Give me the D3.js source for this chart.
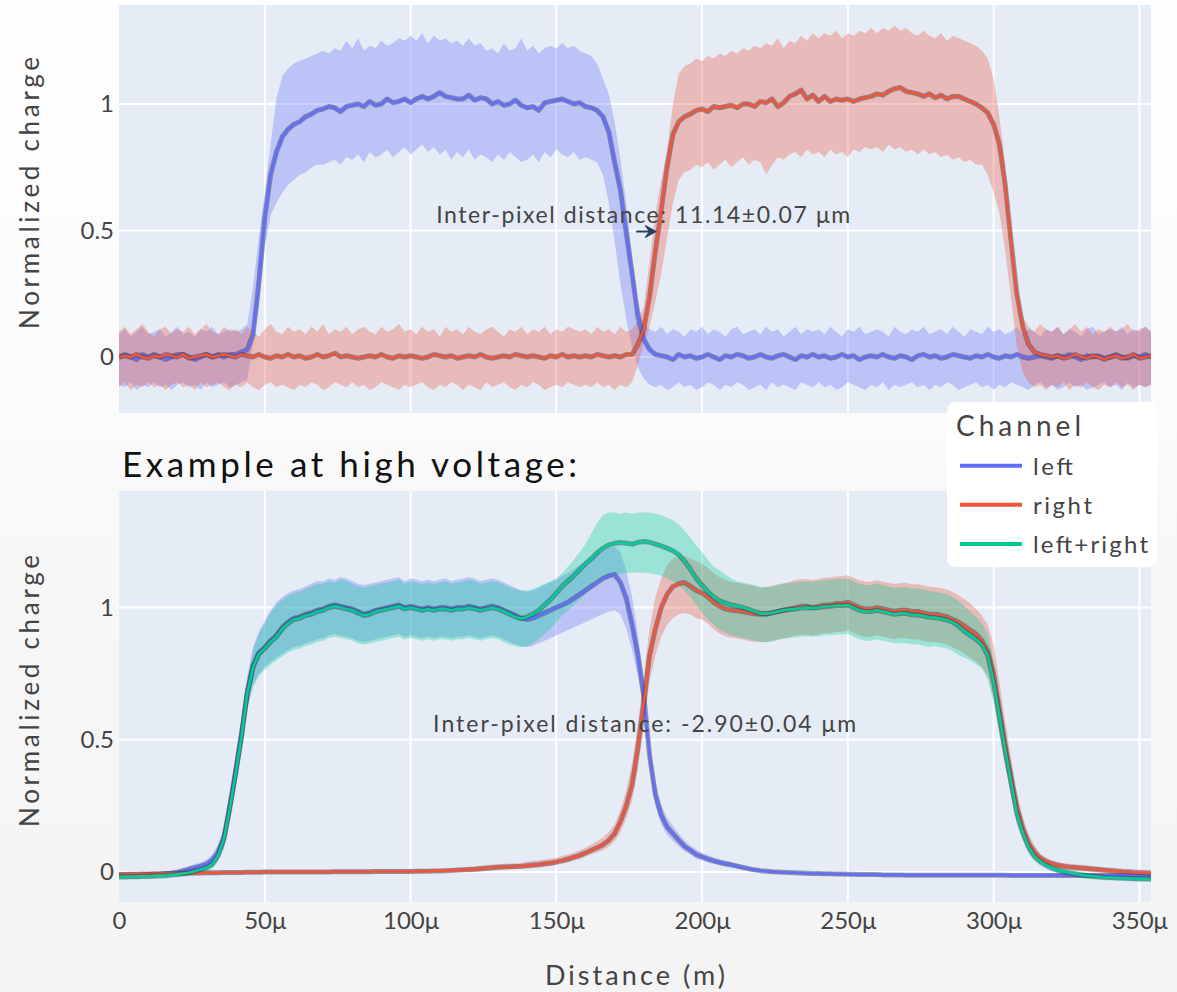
<!DOCTYPE html>
<html>
<head>
<meta charset="utf-8">
<script src="https://cdn.jsdelivr.net/npm/d3@7"></script>
<style>
  html, body { margin: 0; padding: 0; }
  body { width: 1177px; height: 992px; overflow: hidden; background: #f6f6f6; }
  svg text { font-family: Lato, "Noto Sans", "Open Sans", sans-serif; }
</style>
</head>
<body>
<svg id="chart" width="1177" height="992"></svg>
<script>
// ---- sampling grid (distance along the scan, in µm, 2 µm steps) ----
const distanceUm = d3.range(0, 355, 2);

// ---- axis ticks ----
const xTickValues = [0, 50, 100, 150, 200, 250, 300, 350];
const xTickLabels = ["0", "50μ", "100μ", "150μ", "200μ", "250μ", "300μ", "350μ"];
const yTickValues = [0, 0.5, 1];
const yTickLabels = ["0", "0.5", "1"];

// ---- legend ----
const channelNames = ["left", "right", "left+right"];
const channelColors = ["#636efa", "#ef553b", "#00cc96"];

// ---- annotations ----
const noteTexts = ["Inter-pixel distance: 11.14±0.07 μm", "Inter-pixel distance: -2.90±0.04 μm"];
const noteCenterUm = [179.8, 180.3];
const noteLevel = 0.5;
const arrowFromUm = 177.4;
const arrowToUm = 184.3;

// ---- upper panel: left channel ----
const topLeftMean = [
  0.00,0.01,0.00,-0.01,0.01,0.00,0.01,0.00,-0.01,0.00,
  0.01,0.01,0.00,-0.01,0.00,0.01,0.00,0.01,0.00,0.01,
  0.01,0.02,0.03,0.09,0.30,0.55,0.72,0.81,0.87,0.90,
  0.92,0.93,0.95,0.96,0.975,0.98,0.99,0.985,0.97,0.99,
  0.995,1.00,0.99,1.01,0.995,1.00,1.02,1.005,1.01,1.02,
  1.005,1.02,1.03,1.02,1.03,1.045,1.03,1.025,1.02,1.02,
  1.035,1.015,1.025,1.02,1.00,1.01,0.995,1.00,1.015,0.995,
  0.985,0.99,0.975,1.005,1.01,1.015,1.02,1.01,1.00,1.005,
  0.99,0.985,0.975,0.95,0.89,0.77,0.66,0.49,0.33,0.16,
  0.07,0.03,0.01,0.005,0.00,-0.01,0.01,0.00,0.005,-0.005,
  0.00,0.01,0.00,-0.01,0.005,0.00,0.01,0.005,-0.005,0.00,
  0.01,0.00,-0.005,0.005,0.01,0.00,-0.01,0.005,0.00,0.01,
  0.00,0.005,-0.005,0.00,0.01,0.00,0.005,-0.01,0.00,0.005,
  0.00,0.01,0.00,-0.005,0.005,0.00,-0.01,0.005,0.01,0.00,
  0.005,-0.005,0.00,0.01,0.005,0.00,-0.005,0.005,0.00,0.01,
  0.00,-0.005,0.005,0.00,0.01,0.00,-0.005,0.00,0.005,0.00,
  -0.005,0.005,0.00,0.01,0.00,-0.01,0.005,0.00,0.005,-0.005,
  0.00,0.01,0.00,-0.005,0.005,0.00,0.01,0.00
];
const topLeftHigh = [
  0.09,0.11,0.08,0.10,0.12,0.09,0.10,0.11,0.08,0.10,
  0.12,0.09,0.10,0.08,0.11,0.10,0.12,0.09,0.10,0.11,
  0.10,0.11,0.13,0.28,0.48,0.65,0.84,1.02,1.11,1.14,
  1.16,1.17,1.18,1.19,1.20,1.21,1.20,1.22,1.21,1.25,
  1.22,1.26,1.21,1.23,1.22,1.25,1.23,1.24,1.26,1.25,
  1.27,1.25,1.28,1.24,1.27,1.25,1.26,1.24,1.25,1.23,
  1.26,1.23,1.24,1.21,1.22,1.20,1.24,1.21,1.22,1.26,
  1.21,1.23,1.20,1.22,1.23,1.22,1.24,1.22,1.23,1.21,
  1.20,1.19,1.16,1.10,1.04,0.93,0.78,0.61,0.40,0.22,
  0.13,0.11,0.10,0.12,0.09,0.11,0.10,0.08,0.11,0.10,
  0.12,0.09,0.11,0.10,0.08,0.11,0.12,0.09,0.10,0.11,
  0.09,0.12,0.10,0.11,0.08,0.10,0.12,0.09,0.11,0.10,
  0.11,0.09,0.12,0.10,0.08,0.11,0.10,0.12,0.09,0.10,
  0.11,0.10,0.08,0.12,0.10,0.09,0.11,0.10,0.12,0.09,
  0.10,0.11,0.09,0.12,0.10,0.08,0.11,0.10,0.09,0.12,
  0.10,0.11,0.09,0.10,0.12,0.09,0.11,0.10,0.08,0.11,
  0.10,0.12,0.09,0.11,0.10,0.08,0.11,0.12,0.09,0.10,
  0.11,0.10,0.12,0.09,0.11,0.10,0.12,0.10
];
const topLeftLow = [
  -0.11,-0.12,-0.10,-0.13,-0.11,-0.12,-0.10,-0.12,-0.11,-0.13,
  -0.11,-0.10,-0.12,-0.11,-0.13,-0.10,-0.12,-0.11,-0.10,-0.12,
  -0.11,-0.10,-0.09,0.05,0.20,0.43,0.56,0.61,0.65,0.68,
  0.70,0.72,0.73,0.75,0.76,0.76,0.77,0.78,0.76,0.79,
  0.78,0.80,0.77,0.81,0.79,0.80,0.82,0.79,0.81,0.83,
  0.80,0.82,0.84,0.81,0.83,0.80,0.82,0.78,0.81,0.79,
  0.82,0.78,0.80,0.79,0.77,0.80,0.78,0.81,0.79,0.77,
  0.78,0.80,0.77,0.81,0.79,0.82,0.80,0.79,0.81,0.78,
  0.79,0.78,0.77,0.72,0.61,0.46,0.29,0.15,0.04,-0.04,
  -0.085,-0.11,-0.12,-0.11,-0.13,-0.12,-0.10,-0.12,-0.11,-0.13,
  -0.12,-0.10,-0.11,-0.13,-0.11,-0.12,-0.10,-0.11,-0.13,-0.12,
  -0.11,-0.13,-0.10,-0.12,-0.11,-0.12,-0.13,-0.10,-0.11,-0.12,
  -0.10,-0.12,-0.11,-0.13,-0.12,-0.10,-0.11,-0.12,-0.13,-0.11,
  -0.12,-0.10,-0.13,-0.11,-0.12,-0.11,-0.10,-0.12,-0.11,-0.13,
  -0.11,-0.12,-0.10,-0.11,-0.13,-0.12,-0.11,-0.10,-0.12,-0.11,
  -0.13,-0.11,-0.12,-0.10,-0.11,-0.12,-0.13,-0.11,-0.10,-0.12,
  -0.11,-0.13,-0.12,-0.10,-0.12,-0.11,-0.13,-0.12,-0.11,-0.10,
  -0.12,-0.11,-0.13,-0.10,-0.12,-0.11,-0.12,-0.11
];

// ---- upper panel: right channel ----
const topRightMean = [
  0.00,0.005,0.00,0.01,0.00,-0.005,0.005,0.00,0.01,0.005,
  0.00,0.01,-0.005,0.00,0.005,0.01,0.00,0.005,0.01,0.005,
  0.00,0.01,0.005,0.00,0.01,0.00,-0.005,0.005,0.00,0.01,
  0.00,0.005,-0.005,0.00,0.01,0.00,0.005,0.015,0.00,0.005,
  0.00,-0.005,0.00,0.005,0.00,0.01,0.00,-0.005,0.005,0.00,
  0.005,0.00,-0.005,0.00,0.01,0.005,0.00,0.005,-0.005,0.00,
  0.005,0.00,0.01,0.00,-0.005,0.00,0.005,0.00,0.01,0.005,
  0.00,0.005,0.00,-0.005,0.005,0.00,0.01,0.00,0.005,0.00,
  0.005,0.00,0.01,0.005,0.00,0.005,0.00,0.01,0.01,0.05,
  0.11,0.24,0.42,0.58,0.75,0.88,0.93,0.95,0.96,0.975,
  0.98,0.97,0.99,0.985,0.99,0.995,0.985,1.00,1.00,0.99,
  1.01,1.005,1.02,0.99,1.005,1.03,1.04,1.055,1.02,1.035,
  1.01,1.03,1.01,1.02,1.015,1.02,1.01,1.02,1.025,1.03,
  1.04,1.035,1.05,1.06,1.065,1.05,1.045,1.04,1.03,1.04,
  1.025,1.035,1.02,1.03,1.03,1.02,1.01,1.00,0.985,0.965,
  0.92,0.84,0.68,0.46,0.25,0.12,0.05,0.02,0.01,0.005,
  0.00,0.005,-0.005,0.00,0.01,0.00,-0.005,0.005,0.00,-0.01,
  0.00,0.005,-0.005,0.00,0.01,-0.005,0.00,0.005
];
const topRightHigh = [
  0.10,0.12,0.09,0.11,0.13,0.10,0.08,0.11,0.12,0.09,
  0.11,0.10,0.12,0.09,0.11,0.13,0.10,0.09,0.12,0.10,
  0.11,0.09,0.12,0.10,0.08,0.11,0.13,0.10,0.09,0.12,
  0.10,0.11,0.09,0.12,0.10,0.13,0.09,0.11,0.10,0.12,
  0.09,0.11,0.12,0.10,0.09,0.12,0.10,0.11,0.13,0.10,
  0.11,0.09,0.12,0.10,0.11,0.08,0.12,0.10,0.11,0.09,
  0.12,0.10,0.09,0.11,0.12,0.10,0.08,0.11,0.10,0.12,
  0.09,0.11,0.10,0.12,0.09,0.11,0.10,0.12,0.11,0.10,
  0.11,0.09,0.12,0.10,0.11,0.09,0.12,0.10,0.11,0.14,
  0.20,0.38,0.57,0.70,0.82,1.00,1.12,1.15,1.16,1.18,
  1.17,1.19,1.18,1.20,1.19,1.21,1.20,1.22,1.21,1.23,
  1.22,1.24,1.23,1.26,1.22,1.25,1.24,1.27,1.25,1.28,
  1.26,1.28,1.27,1.29,1.26,1.28,1.27,1.29,1.28,1.30,
  1.28,1.30,1.29,1.31,1.29,1.30,1.28,1.27,1.29,1.27,
  1.26,1.28,1.25,1.27,1.26,1.25,1.24,1.23,1.21,1.18,
  1.10,0.95,0.76,0.52,0.29,0.16,0.12,0.10,0.13,0.11,
  0.10,0.12,0.09,0.11,0.13,0.10,0.12,0.09,0.11,0.10,
  0.12,0.10,0.11,0.13,0.10,0.11,0.12,0.10
];
const topRightLow = [
  -0.12,-0.10,-0.13,-0.11,-0.12,-0.10,-0.12,-0.11,-0.13,-0.11,
  -0.10,-0.12,-0.11,-0.13,-0.10,-0.12,-0.11,-0.10,-0.12,-0.13,
  -0.11,-0.12,-0.10,-0.12,-0.13,-0.11,-0.10,-0.12,-0.11,-0.12,
  -0.13,-0.11,-0.12,-0.10,-0.11,-0.13,-0.12,-0.10,-0.11,-0.12,
  -0.10,-0.12,-0.11,-0.13,-0.12,-0.10,-0.11,-0.12,-0.13,-0.11,
  -0.12,-0.11,-0.10,-0.12,-0.13,-0.11,-0.12,-0.10,-0.11,-0.13,
  -0.11,-0.12,-0.13,-0.10,-0.12,-0.11,-0.10,-0.12,-0.13,-0.11,
  -0.12,-0.10,-0.11,-0.13,-0.12,-0.11,-0.12,-0.10,-0.11,-0.12,
  -0.11,-0.12,-0.10,-0.12,-0.11,-0.13,-0.11,-0.12,-0.10,-0.03,
  0.05,0.12,0.22,0.33,0.47,0.61,0.70,0.73,0.74,0.76,
  0.75,0.77,0.74,0.76,0.78,0.75,0.77,0.79,0.76,0.78,
  0.77,0.72,0.76,0.79,0.78,0.80,0.81,0.79,0.82,0.80,
  0.81,0.79,0.82,0.80,0.81,0.79,0.82,0.81,0.83,0.82,
  0.83,0.81,0.84,0.82,0.83,0.81,0.82,0.80,0.82,0.80,
  0.81,0.79,0.80,0.78,0.79,0.77,0.78,0.76,0.76,0.72,
  0.65,0.57,0.42,0.23,0.04,-0.06,-0.10,-0.12,-0.11,-0.13,
  -0.11,-0.12,-0.10,-0.13,-0.11,-0.12,-0.10,-0.12,-0.13,-0.11,
  -0.12,-0.10,-0.12,-0.11,-0.13,-0.11,-0.12,-0.11
];

// ---- lower panel (high voltage): left channel ----
const bottomLeftMean = [
  -0.012,-0.012,-0.011,-0.012,-0.011,-0.010,-0.010,-0.009,-0.007,-0.005,
  -0.002,0.004,0.010,0.016,0.022,0.030,0.045,0.075,0.13,0.25,
  0.38,0.52,0.68,0.78,0.83,0.85,0.875,0.895,0.925,0.945,
  0.96,0.965,0.975,0.98,0.99,0.995,1.005,1.01,1.005,1.0,
  0.995,0.985,0.975,0.98,0.99,0.995,1.0,1.005,1.01,1.0,
  1.005,1.0,0.995,1.0,0.995,1.0,1.0,0.995,1.0,1.0,
  1.005,1.0,0.995,1.0,1.005,1.0,0.99,0.98,0.97,0.96,
  0.955,0.96,0.97,0.98,0.99,1.0,1.01,1.02,1.035,1.05,
  1.065,1.08,1.095,1.11,1.12,1.125,1.095,1.035,0.935,0.82,
  0.67,0.44,0.29,0.215,0.17,0.145,0.12,0.097,0.082,0.066,
  0.057,0.049,0.042,0.036,0.031,0.027,0.022,0.017,0.012,0.008,
  0.005,0.003,0.001,0.0,-0.001,-0.002,-0.003,-0.004,-0.005,-0.006,
  -0.006,-0.007,-0.007,-0.008,-0.008,-0.009,-0.009,-0.010,-0.010,-0.010,
  -0.010,-0.011,-0.011,-0.011,-0.011,-0.012,-0.012,-0.012,-0.012,-0.012,
  -0.012,-0.012,-0.012,-0.012,-0.012,-0.012,-0.012,-0.012,-0.012,-0.012,
  -0.012,-0.012,-0.012,-0.013,-0.013,-0.013,-0.013,-0.013,-0.013,-0.013,
  -0.013,-0.013,-0.013,-0.013,-0.013,-0.013,-0.013,-0.013,-0.013,-0.013,
  -0.013,-0.013,-0.013,-0.013,-0.013,-0.013,-0.013,-0.013
];
const bottomLeftHigh = [
  -0.002,-0.002,-0.001,-0.002,-0.001,0.0,0.0,0.001,0.003,0.006,
  0.010,0.016,0.023,0.030,0.037,0.047,0.066,0.105,0.17,0.30,
  0.44,0.58,0.74,0.85,0.91,0.95,0.99,1.02,1.04,1.055,
  1.065,1.07,1.08,1.09,1.10,1.10,1.11,1.105,1.115,1.11,
  1.10,1.09,1.085,1.09,1.095,1.10,1.105,1.11,1.115,1.10,
  1.11,1.105,1.10,1.105,1.10,1.105,1.11,1.10,1.105,1.11,
  1.115,1.11,1.10,1.105,1.11,1.105,1.095,1.085,1.075,1.065,
  1.06,1.065,1.075,1.085,1.095,1.105,1.12,1.13,1.145,1.16,
  1.175,1.19,1.20,1.215,1.225,1.23,1.21,1.14,1.04,0.90,
  0.72,0.49,0.34,0.255,0.205,0.175,0.145,0.12,0.10,0.085,
  0.073,0.064,0.056,0.049,0.043,0.038,0.032,0.026,0.020,0.016,
  0.012,0.010,0.008,0.006,0.005,0.004,0.003,0.002,0.001,0.0,
  0.001,0.0,0.0,-0.001,-0.001,-0.002,-0.002,-0.003,-0.003,-0.003,
  -0.003,-0.004,-0.004,-0.004,-0.004,-0.005,-0.005,-0.005,-0.005,-0.005,
  -0.005,-0.005,-0.005,-0.005,-0.005,-0.005,-0.005,-0.005,-0.005,-0.005,
  -0.005,-0.005,-0.005,-0.006,-0.006,-0.006,-0.006,-0.006,-0.006,-0.006,
  -0.006,-0.006,-0.006,-0.006,-0.006,-0.006,-0.006,-0.006,-0.006,-0.006,
  -0.006,-0.006,-0.006,-0.006,-0.006,-0.006,-0.006,-0.006
];
const bottomLeftLow = [
  -0.022,-0.022,-0.021,-0.022,-0.021,-0.020,-0.020,-0.019,-0.017,-0.015,
  -0.012,-0.008,-0.003,0.002,0.007,0.013,0.024,0.045,0.09,0.20,
  0.32,0.46,0.62,0.71,0.75,0.775,0.795,0.81,0.825,0.84,
  0.85,0.855,0.865,0.87,0.88,0.885,0.895,0.90,0.895,0.89,
  0.885,0.875,0.87,0.875,0.88,0.885,0.89,0.895,0.90,0.89,
  0.895,0.89,0.885,0.89,0.885,0.89,0.89,0.885,0.89,0.89,
  0.895,0.89,0.885,0.89,0.895,0.89,0.88,0.87,0.86,0.855,
  0.85,0.855,0.865,0.875,0.885,0.895,0.905,0.915,0.925,0.935,
  0.945,0.955,0.965,0.975,0.985,0.99,0.975,0.92,0.84,0.74,
  0.61,0.39,0.25,0.18,0.14,0.118,0.097,0.078,0.065,0.05,
  0.043,0.036,0.030,0.025,0.021,0.017,0.013,0.009,0.005,0.001,
  -0.002,-0.004,-0.006,-0.007,-0.008,-0.009,-0.010,-0.011,-0.012,-0.013,
  -0.013,-0.014,-0.014,-0.015,-0.015,-0.016,-0.016,-0.017,-0.017,-0.017,
  -0.017,-0.018,-0.018,-0.018,-0.018,-0.019,-0.019,-0.019,-0.019,-0.019,
  -0.019,-0.019,-0.019,-0.019,-0.019,-0.019,-0.019,-0.019,-0.019,-0.019,
  -0.019,-0.019,-0.019,-0.020,-0.020,-0.020,-0.020,-0.020,-0.020,-0.020,
  -0.020,-0.020,-0.020,-0.020,-0.020,-0.020,-0.020,-0.020,-0.020,-0.020,
  -0.020,-0.020,-0.020,-0.020,-0.020,-0.020,-0.020,-0.020
];

// ---- lower panel: right channel ----
const bottomRightMean = [
  -0.010,-0.010,-0.009,-0.009,-0.008,-0.008,-0.007,-0.007,-0.006,-0.006,
  -0.005,-0.005,-0.004,-0.004,-0.004,-0.003,-0.003,-0.003,-0.002,-0.002,
  -0.002,-0.002,-0.001,-0.001,-0.001,0.0,0.0,0.0,0.0,0.0,
  0.0,0.0,0.0,0.0,0.0,0.0,0.0,0.001,0.001,0.001,
  0.001,0.001,0.001,0.001,0.002,0.002,0.002,0.002,0.002,0.002,
  0.002,0.003,0.003,0.003,0.004,0.004,0.005,0.006,0.007,0.008,
  0.009,0.010,0.012,0.014,0.016,0.018,0.019,0.020,0.021,0.022,
  0.024,0.026,0.028,0.031,0.034,0.038,0.043,0.049,0.056,0.063,
  0.072,0.082,0.092,0.103,0.12,0.145,0.19,0.25,0.33,0.47,
  0.64,0.82,0.92,1.0,1.05,1.08,1.09,1.095,1.08,1.065,
  1.055,1.04,1.02,1.005,0.995,0.99,0.988,0.985,0.98,0.977,
  0.975,0.975,0.98,0.985,0.99,0.995,1.0,1.005,1.005,1.0,
  1.005,1.01,1.01,1.015,1.015,1.02,1.01,1.0,0.995,0.995,
  1.0,0.995,0.99,0.985,0.99,0.99,0.985,0.985,0.98,0.975,
  0.975,0.97,0.965,0.955,0.945,0.93,0.915,0.90,0.875,0.835,
  0.75,0.615,0.48,0.36,0.245,0.165,0.11,0.075,0.053,0.04,
  0.032,0.026,0.022,0.019,0.017,0.015,0.013,0.011,0.009,0.007,
  0.005,0.003,0.001,0.0,-0.002,-0.003,-0.004,-0.005
];
const bottomRightHigh = [
  -0.002,-0.002,-0.001,-0.001,0.0,0.0,0.001,0.001,0.002,0.002,
  0.003,0.003,0.004,0.004,0.004,0.005,0.005,0.005,0.006,0.006,
  0.006,0.006,0.007,0.007,0.007,0.008,0.008,0.008,0.008,0.008,
  0.008,0.008,0.008,0.008,0.008,0.008,0.008,0.009,0.009,0.009,
  0.009,0.009,0.009,0.009,0.010,0.010,0.010,0.010,0.010,0.010,
  0.010,0.011,0.011,0.011,0.012,0.012,0.013,0.014,0.015,0.016,
  0.021,0.022,0.024,0.026,0.028,0.030,0.031,0.032,0.033,0.034,
  0.040,0.042,0.044,0.047,0.050,0.055,0.060,0.066,0.074,0.082,
  0.092,0.104,0.116,0.130,0.150,0.180,0.235,0.31,0.41,0.56,
  0.74,0.92,1.04,1.11,1.16,1.185,1.195,1.195,1.185,1.175,
  1.165,1.15,1.13,1.115,1.105,1.097,1.094,1.09,1.085,1.081,
  1.075,1.078,1.082,1.088,1.092,1.098,1.104,1.108,1.107,1.104,
  1.108,1.113,1.114,1.118,1.119,1.122,1.112,1.103,1.099,1.098,
  1.103,1.098,1.094,1.089,1.093,1.094,1.088,1.088,1.084,1.079,
  1.077,1.073,1.068,1.058,1.047,1.032,1.015,0.995,0.97,0.935,
  0.86,0.72,0.57,0.43,0.30,0.21,0.145,0.10,0.07,0.055,
  0.044,0.038,0.034,0.031,0.029,0.027,0.025,0.023,0.021,0.019,
  0.017,0.015,0.013,0.012,0.010,0.009,0.008,0.007
];
const bottomRightLow = [
  -0.018,-0.018,-0.017,-0.017,-0.016,-0.016,-0.015,-0.015,-0.014,-0.014,
  -0.013,-0.013,-0.012,-0.012,-0.012,-0.011,-0.011,-0.011,-0.010,-0.010,
  -0.010,-0.010,-0.009,-0.009,-0.009,-0.008,-0.008,-0.008,-0.008,-0.008,
  -0.008,-0.008,-0.008,-0.008,-0.008,-0.008,-0.008,-0.007,-0.007,-0.007,
  -0.007,-0.007,-0.007,-0.007,-0.006,-0.006,-0.006,-0.006,-0.006,-0.006,
  -0.006,-0.005,-0.005,-0.005,-0.004,-0.004,-0.003,-0.002,-0.001,0.0,
  -0.001,0.0,0.002,0.004,0.006,0.008,0.009,0.010,0.011,0.012,
  0.012,0.014,0.016,0.019,0.022,0.026,0.031,0.036,0.042,0.048,
  0.058,0.066,0.074,0.082,0.095,0.115,0.15,0.20,0.27,0.39,
  0.55,0.72,0.82,0.89,0.935,0.96,0.975,0.98,0.975,0.96,
  0.955,0.94,0.918,0.902,0.892,0.886,0.883,0.879,0.874,0.871,
  0.87,0.87,0.874,0.879,0.884,0.889,0.894,0.898,0.897,0.894,
  0.899,0.904,0.904,0.908,0.909,0.913,0.904,0.895,0.89,0.889,
  0.895,0.89,0.885,0.88,0.885,0.884,0.88,0.879,0.874,0.87,
  0.87,0.866,0.86,0.85,0.84,0.826,0.81,0.795,0.775,0.74,
  0.66,0.52,0.40,0.29,0.19,0.125,0.08,0.052,0.036,0.026,
  0.02,0.014,0.01,0.007,0.005,0.003,0.001,-0.001,-0.003,-0.005,
  -0.007,-0.009,-0.011,-0.012,-0.014,-0.015,-0.016,-0.017
];

// ---- lower panel: left+right ----
const bottomSumMean = [
  -0.018,-0.018,-0.017,-0.017,-0.016,-0.016,-0.015,-0.014,-0.013,-0.011,
  -0.009,-0.006,-0.002,0.003,0.009,0.016,0.030,0.063,0.125,0.24,
  0.37,0.51,0.675,0.775,0.825,0.845,0.87,0.89,0.92,0.94,
  0.955,0.96,0.97,0.975,0.985,0.99,1.0,1.005,1.0,0.995,
  0.99,0.98,0.97,0.975,0.985,0.99,0.995,1.0,1.005,0.995,
  1.0,0.995,0.99,0.995,0.99,0.995,0.995,0.99,0.995,0.995,
  1.0,0.995,0.99,0.995,1.0,0.995,0.985,0.975,0.965,0.958,
  0.965,0.975,0.99,1.01,1.03,1.055,1.08,1.10,1.12,1.143,
  1.165,1.185,1.207,1.225,1.237,1.243,1.246,1.243,1.24,1.247,
  1.25,1.247,1.24,1.233,1.225,1.215,1.20,1.175,1.145,1.11,
  1.085,1.06,1.04,1.025,1.018,1.01,1.005,1.0,0.993,0.985,
  0.978,0.977,0.98,0.985,0.99,0.993,0.995,0.998,1.0,0.998,
  1.0,1.004,1.005,1.008,1.008,1.01,1.0,0.99,0.985,0.985,
  0.99,0.985,0.98,0.975,0.978,0.978,0.973,0.972,0.968,0.963,
  0.962,0.958,0.953,0.945,0.93,0.91,0.895,0.88,0.86,0.82,
  0.72,0.59,0.46,0.34,0.22,0.15,0.095,0.06,0.04,0.026,
  0.015,0.007,0.001,-0.004,-0.008,-0.011,-0.014,-0.016,-0.018,-0.02,
  -0.021,-0.022,-0.023,-0.024,-0.025,-0.026,-0.026,-0.027
];
const bottomSumHigh = [
  -0.006,-0.006,-0.005,-0.005,-0.004,-0.004,-0.003,-0.002,-0.001,0.001,
  0.004,0.008,0.013,0.019,0.026,0.035,0.052,0.09,0.16,0.29,
  0.43,0.57,0.73,0.84,0.90,0.94,0.98,1.01,1.03,1.045,
  1.055,1.06,1.07,1.08,1.09,1.09,1.10,1.095,1.105,1.10,
  1.09,1.08,1.075,1.08,1.085,1.09,1.095,1.10,1.105,1.09,
  1.10,1.095,1.09,1.095,1.09,1.095,1.10,1.09,1.095,1.10,
  1.105,1.10,1.09,1.095,1.10,1.095,1.085,1.075,1.07,1.065,
  1.065,1.07,1.08,1.09,1.10,1.11,1.13,1.155,1.18,1.21,
  1.24,1.28,1.32,1.35,1.36,1.36,1.355,1.36,1.355,1.36,
  1.36,1.36,1.355,1.35,1.34,1.33,1.315,1.29,1.265,1.235,
  1.21,1.18,1.155,1.14,1.125,1.11,1.10,1.095,1.09,1.085,
  1.078,1.077,1.08,1.085,1.09,1.093,1.095,1.098,1.10,1.098,
  1.10,1.104,1.105,1.108,1.108,1.11,1.10,1.09,1.085,1.085,
  1.09,1.085,1.08,1.075,1.078,1.078,1.073,1.072,1.068,1.063,
  1.06,1.055,1.05,1.04,1.025,1.005,0.985,0.965,0.94,0.90,
  0.80,0.66,0.52,0.39,0.26,0.18,0.12,0.08,0.056,0.04,
  0.028,0.019,0.013,0.008,0.004,0.001,-0.002,-0.005,-0.007,-0.009,
  -0.010,-0.011,-0.012,-0.013,-0.014,-0.015,-0.015,-0.016
];
const bottomSumLow = [
  -0.030,-0.030,-0.029,-0.029,-0.028,-0.028,-0.027,-0.026,-0.025,-0.023,
  -0.021,-0.018,-0.015,-0.011,-0.006,0.0,0.012,0.04,0.095,0.20,
  0.32,0.46,0.62,0.70,0.74,0.765,0.785,0.80,0.815,0.83,
  0.84,0.845,0.855,0.86,0.87,0.875,0.885,0.89,0.885,0.88,
  0.875,0.865,0.86,0.865,0.87,0.875,0.88,0.885,0.89,0.88,
  0.885,0.88,0.875,0.88,0.875,0.88,0.88,0.875,0.88,0.88,
  0.885,0.88,0.875,0.88,0.885,0.88,0.87,0.86,0.855,0.85,
  0.855,0.865,0.88,0.90,0.92,0.945,0.97,0.99,1.01,1.03,
  1.05,1.07,1.09,1.105,1.115,1.122,1.127,1.13,1.132,1.133,
  1.132,1.13,1.126,1.12,1.11,1.10,1.085,1.065,1.04,1.01,
  0.98,0.955,0.935,0.915,0.905,0.895,0.89,0.885,0.88,0.875,
  0.87,0.868,0.872,0.877,0.882,0.885,0.887,0.89,0.892,0.89,
  0.892,0.895,0.896,0.898,0.898,0.90,0.89,0.88,0.875,0.875,
  0.88,0.875,0.87,0.865,0.866,0.866,0.861,0.86,0.856,0.851,
  0.855,0.85,0.845,0.835,0.82,0.81,0.80,0.785,0.77,0.73,
  0.64,0.52,0.40,0.29,0.18,0.12,0.07,0.04,0.024,0.012,
  0.002,-0.005,-0.011,-0.016,-0.02,-0.023,-0.026,-0.028,-0.03,-0.031,
  -0.032,-0.033,-0.034,-0.035,-0.036,-0.037,-0.037,-0.038
];

// ================= drawing =================
const W = 1177, H = 992;
const svg = d3.select("#chart");
const defs = svg.append("defs");

// soft page background
const bg = defs.append("linearGradient").attr("id", "pageBg")
  .attr("x1", 0).attr("y1", 0).attr("x2", 0).attr("y2", 1);
[[0, "#fefefe"], [0.42, "#fbfbfb"], [0.5, "#f8f8f8"], [1, "#f4f4f4"]]
  .forEach(([o, c]) => bg.append("stop").attr("offset", o).attr("stop-color", c));
svg.append("rect").attr("width", W).attr("height", H).attr("fill", "url(#pageBg)");

const plotLeft = 119, plotRight = 1151;
const x = d3.scaleLinear().domain([0, 354]).range([plotLeft, plotRight]);

const panels = [
  {
    top: 5, bottom: 413, yDomain: [-0.2213, 1.3913],
    series: [
      { ch: 0, mean: topLeftMean, lo: topLeftLow, hi: topLeftHigh },
      { ch: 1, mean: topRightMean, lo: topRightLow, hi: topRightHigh }
    ],
    titleY: 193, showX: false, arrow: true
  },
  {
    top: 491, bottom: 902, yDomain: [-0.1136, 1.441],
    series: [
      { ch: 0, mean: bottomLeftMean, lo: bottomLeftLow, hi: bottomLeftHigh },
      { ch: 1, mean: bottomRightMean, lo: bottomRightLow, hi: bottomRightHigh },
      { ch: 2, mean: bottomSumMean, lo: bottomSumLow, hi: bottomSumHigh }
    ],
    titleY: 691, showX: true, arrow: false
  }
];

panels.forEach((p, k) => {
  const y = d3.scaleLinear().domain(p.yDomain).range([p.bottom, p.top]);
  const g = svg.append("g");

  g.append("rect")
    .attr("x", plotLeft).attr("y", p.top)
    .attr("width", plotRight - plotLeft).attr("height", p.bottom - p.top)
    .attr("fill", "#e5ecf6");

  // grid
  g.selectAll(".vgrid").data(xTickValues.filter(v => v > 0)).join("line")
    .attr("x1", d => x(d)).attr("x2", d => x(d))
    .attr("y1", p.top).attr("y2", p.bottom)
    .attr("stroke", "#ffffff").attr("stroke-width", 2);
  g.selectAll(".hgrid").data(yTickValues).join("line")
    .attr("x1", plotLeft).attr("x2", plotRight)
    .attr("y1", d => y(d)).attr("y2", d => y(d))
    .attr("stroke", "#ffffff").attr("stroke-width", 2);

  defs.append("clipPath").attr("id", "clip" + k).append("rect")
    .attr("x", plotLeft).attr("y", p.top)
    .attr("width", plotRight - plotLeft).attr("height", p.bottom - p.top);
  const plot = g.append("g").attr("clip-path", `url(#clip${k})`);

  const rows = p.series.map(s => ({
    ch: s.ch,
    pts: distanceUm.map((d, i) => ({ d, m: s.mean[i], lo: s.lo[i], hi: s.hi[i] }))
      .filter(v => v.m !== undefined && v.lo !== undefined && v.hi !== undefined)
  }));

  const area = d3.area().x(v => x(v.d)).y0(v => y(v.lo)).y1(v => y(v.hi));
  const line = d3.line().x(v => x(v.d)).y(v => y(v.m));

  rows.forEach(r => {
    plot.append("path").datum(r.pts).attr("d", area)
      .attr("fill", channelColors[r.ch]).attr("fill-opacity", 0.32);
  });
  rows.forEach(r => {
    plot.append("path").datum(r.pts).attr("d", line)
      .attr("fill", "none").attr("stroke", "#34344c").attr("stroke-opacity", 0.45)
      .attr("stroke-width", 5).attr("stroke-linejoin", "round");
    plot.append("path").datum(r.pts).attr("d", line)
      .attr("fill", "none").attr("stroke", channelColors[r.ch])
      .attr("stroke-width", 2.6).attr("stroke-linejoin", "round");
  });

  // y axis
  const yAxis = d3.axisLeft(y).tickValues(yTickValues)
    .tickFormat((d, i) => yTickLabels[i]).tickSize(0).tickPadding(5);
  const ya = g.append("g").attr("transform", `translate(${plotLeft},0)`).call(yAxis);
  ya.select(".domain").remove();
  ya.selectAll("text").attr("font-size", 24).attr("fill", "#444")
    .style("font-family", "Lato, 'Noto Sans', sans-serif");

  g.append("text")
    .attr("transform", `translate(39,${p.titleY}) rotate(-90)`)
    .attr("text-anchor", "middle").attr("font-size", 26).attr("fill", "#444")
    .attr("textLength", 272).attr("lengthAdjust", "spacing")
    .text("Normalized charge");

  if (p.showX) {
    const xAxis = d3.axisBottom(x).tickValues(xTickValues)
      .tickFormat((d, i) => xTickLabels[i]).tickSize(0).tickPadding(10);
    const xa = g.append("g").attr("transform", `translate(0,${p.bottom})`).call(xAxis);
    xa.select(".domain").remove();
    xa.selectAll("text").attr("font-size", 24).attr("fill", "#444")
      .style("font-family", "Lato, 'Noto Sans', sans-serif");
    g.append("text")
      .attr("x", (plotLeft + plotRight) / 2).attr("y", 985)
      .attr("text-anchor", "middle").attr("font-size", 27).attr("fill", "#444")
      .attr("textLength", 180).attr("lengthAdjust", "spacing")
      .text("Distance (m)");
  }

  // inter-pixel distance note
  const noteWidths = [414, 423];
  g.append("text")
    .attr("x", x(noteCenterUm[k])).attr("y", y(noteLevel) - 8)
    .attr("text-anchor", "middle").attr("font-size", 23).attr("fill", "#444")
    .attr("textLength", noteWidths[k]).attr("lengthAdjust", "spacing")
    .text(noteTexts[k]);

  if (p.arrow) {
    const ay = y(noteLevel) + 1;
    const ax0 = x(arrowFromUm), ax1 = x(arrowToUm);
    g.append("line").attr("x1", ax0).attr("x2", ax1 - 4).attr("y1", ay).attr("y2", ay)
      .attr("stroke", "#2a3f5f").attr("stroke-width", 2);
    g.append("path")
      .attr("d", `M${ax1},${ay} L${ax1 - 11},${ay - 6} L${ax1 - 7},${ay} L${ax1 - 11},${ay + 6} Z`)
      .attr("fill", "#2a3f5f").attr("stroke", "#2a3f5f").attr("stroke-width", 1)
      .attr("stroke-linejoin", "round");
  }
});

// subplot title
svg.append("text")
  .attr("x", 122).attr("y", 477)
  .attr("font-size", 35).attr("fill", "#111")
  .attr("textLength", 455).attr("lengthAdjust", "spacing")
  .text("Example at high voltage:");

// legend
const lg = svg.append("g");
lg.append("rect").attr("x", 947).attr("y", 402).attr("width", 210).attr("height", 165)
  .attr("rx", 8).attr("fill", "#ffffff");
lg.append("text").attr("x", 956).attr("y", 436).attr("font-size", 28).attr("fill", "#444")
  .attr("textLength", 125).attr("lengthAdjust", "spacing").text("Channel");
const legendRowY = [465.7, 504.7, 544];
const legendLabelW = [40, 59, 115];
channelNames.forEach((name, i) => {
  lg.append("line").attr("x1", 960).attr("x2", 1022)
    .attr("y1", legendRowY[i]).attr("y2", legendRowY[i])
    .attr("stroke", channelColors[i]).attr("stroke-width", 4);
  lg.append("text").attr("x", 1033).attr("y", legendRowY[i] + 9)
    .attr("font-size", 24).attr("fill", "#444")
    .attr("textLength", legendLabelW[i]).attr("lengthAdjust", "spacing")
    .text(name);
});
</script>
</body>
</html>
